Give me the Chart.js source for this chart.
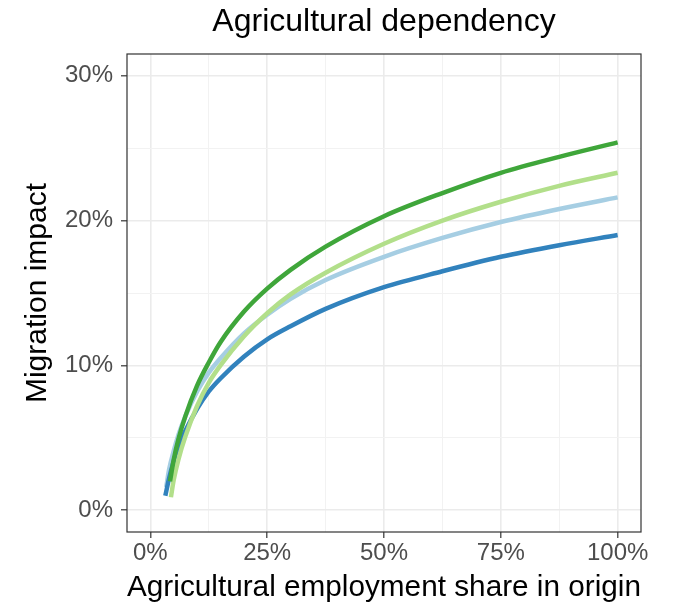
<!DOCTYPE html>
<html>
<head>
<meta charset="utf-8">
<script src="https://cdn.jsdelivr.net/npm/chart.js@4"></script>
<style>
  html, body { margin: 0; padding: 0; background: #ffffff; }
  #wrap { width: 680px; height: 604px; }
</style>
</head>
<body>
<div id="wrap"><canvas id="c" width="680" height="604"></canvas></div>
<script>
// ---- Data (values in %) ----
const titleText = "Agricultural dependency";
const xTitle = "Agricultural employment share in origin";
const yTitle = "Migration impact";

const xMajorTicks = [0, 25, 50, 75, 100];
const xMinorTicks = [12.5, 37.5, 62.5, 87.5];
const yMajorTicks = [0, 10, 20, 30];
const yMinorTicks = [5, 15, 25];

const lightBlueX = [3.4, 4, 5, 6, 7.5, 10, 12.5, 15, 20, 25, 30, 37.5, 50, 62.5, 75, 87.5, 100];
const lightBlueY = [1.6, 2.8, 4.1, 5.2, 6.5, 8.2, 9.5, 10.5, 12.2, 13.5, 14.6, 15.9, 17.5, 18.8, 19.9, 20.8, 21.6];

const darkBlueX = [3.2, 4, 5, 6, 7.5, 10, 12.5, 15, 20, 25, 30, 37.5, 50, 62.5, 75, 87.5, 100];
const darkBlueY = [1.0, 2.2, 3.4, 4.4, 5.5, 7.0, 8.2, 9.1, 10.6, 11.8, 12.7, 13.9, 15.4, 16.5, 17.5, 18.3, 19.0];

const lightGreenX = [4.4, 5, 6, 7.5, 10, 12.5, 15, 20, 25, 30, 37.5, 50, 62.5, 75, 87.5, 100];
const lightGreenY = [0.9, 2.1, 3.5, 5.1, 7.2, 8.8, 10.0, 12.0, 13.6, 14.9, 16.4, 18.4, 20.0, 21.3, 22.4, 23.3];

const darkGreenX = [4.2, 5, 6, 7.5, 10, 12.5, 15, 20, 25, 30, 37.5, 50, 62.5, 75, 87.5, 100];
const darkGreenY = [2.0, 3.5, 4.9, 6.5, 8.6, 10.2, 11.6, 13.7, 15.3, 16.6, 18.2, 20.3, 21.9, 23.3, 24.4, 25.4];

const seriesColors = ["#a6cee3", "#3182bd", "#b2df8a", "#3fa63a"];

function pts(xs, ys) { return xs.map((x, i) => ({ x: x, y: ys[i] })); }

const FONT = "'Liberation Sans', Arial, Helvetica, sans-serif";
const isMinorX = v => xMinorTicks.includes(v);
const isMinorY = v => yMinorTicks.includes(v);

const panelBorder = {
  id: 'panelBorder',
  afterDraw(chart) {
    const a = chart.chartArea, ctx = chart.ctx;
    ctx.save();
    ctx.strokeStyle = '#333333';
    ctx.lineWidth = 1.2;
    ctx.strokeRect(a.left, a.top, a.right - a.left, a.bottom - a.top);
    ctx.restore();
  }
};

const mkDs = (xs, ys, color, order) => ({
  data: pts(xs, ys),
  borderColor: color,
  backgroundColor: color,
  borderWidth: 4.5,
  pointRadius: 0,
  fill: false,
  cubicInterpolationMode: 'monotone',
  order: order,
  borderCapStyle: 'butt'
});

new Chart(document.getElementById('c'), {
  type: 'line',
  data: {
    datasets: [
      mkDs(lightBlueX, lightBlueY, seriesColors[0], 3),
      mkDs(darkBlueX, darkBlueY, seriesColors[1], 2),
      mkDs(lightGreenX, lightGreenY, seriesColors[2], 1),
      mkDs(darkGreenX, darkGreenY, seriesColors[3], 0)
    ]
  },
  options: {
    responsive: false,
    animation: false,
    devicePixelRatio: 1,
    layout: { padding: { left: 0, right: 39, top: 0, bottom: 0 } },
    plugins: {
      legend: { display: false },
      tooltip: { enabled: false },
      title: {
        display: true,
        text: titleText,
        fullSize: false,
        color: '#000000',
        font: { family: FONT, size: 32, weight: 'normal', lineHeight: 1 },
        padding: { top: 6, bottom: 16 }
      }
    },
    scales: {
      x: {
        type: 'linear',
        min: -5, max: 105,
        afterBuildTicks: s => { s.ticks = [...xMajorTicks, ...xMinorTicks].sort((a, b) => a - b).map(v => ({ value: v })); },
        afterFit: s => { s.height = 72; },
        border: { display: false },
        grid: {
          color: ctx => isMinorX(ctx.tick.value) ? '#f2f2f2' : '#ebebeb',
          lineWidth: ctx => isMinorX(ctx.tick.value) ? 1 : 1.6,
          tickColor: ctx => isMinorX(ctx.tick.value) ? 'rgba(0,0,0,0)' : '#333333',
          tickWidth: 1.2,
          tickLength: 6,
          drawOnChartArea: true
        },
        ticks: {
          autoSkip: false,
          maxRotation: 0,
          padding: 1,
          color: '#4d4d4d',
          font: { family: FONT, size: 24, lineHeight: 1.2 },
          callback: v => isMinorX(v) ? '' : v + '%'
        },
        title: {
          display: true,
          text: xTitle,
          color: '#000000',
          font: { family: FONT, size: 30, lineHeight: 1 },
          padding: { top: 0, bottom: 1 }
        }
      },
      y: {
        type: 'linear',
        min: -1.5, max: 31.5,
        afterBuildTicks: s => { s.ticks = [...yMajorTicks, ...yMinorTicks].sort((a, b) => a - b).map(v => ({ value: v })); },
        afterFit: s => { s.width = 127; },
        border: { display: false },
        grid: {
          color: ctx => isMinorY(ctx.tick.value) ? '#f2f2f2' : '#ebebeb',
          lineWidth: ctx => isMinorY(ctx.tick.value) ? 1 : 1.6,
          tickColor: ctx => isMinorY(ctx.tick.value) ? 'rgba(0,0,0,0)' : '#333333',
          tickWidth: 1.2,
          tickLength: 6,
          drawOnChartArea: true
        },
        ticks: {
          autoSkip: false,
          padding: 8,
          color: '#4d4d4d',
          font: { family: FONT, size: 24, lineHeight: 1.2 },
          callback: v => isMinorY(v) ? '' : v + '%'
        },
        title: {
          display: true,
          text: yTitle,
          color: '#000000',
          font: { family: FONT, size: 30, lineHeight: 1 },
          padding: { top: 23, bottom: 0 }
        }
      }
    }
  },
  plugins: [panelBorder]
});
</script>
</body>
</html>
